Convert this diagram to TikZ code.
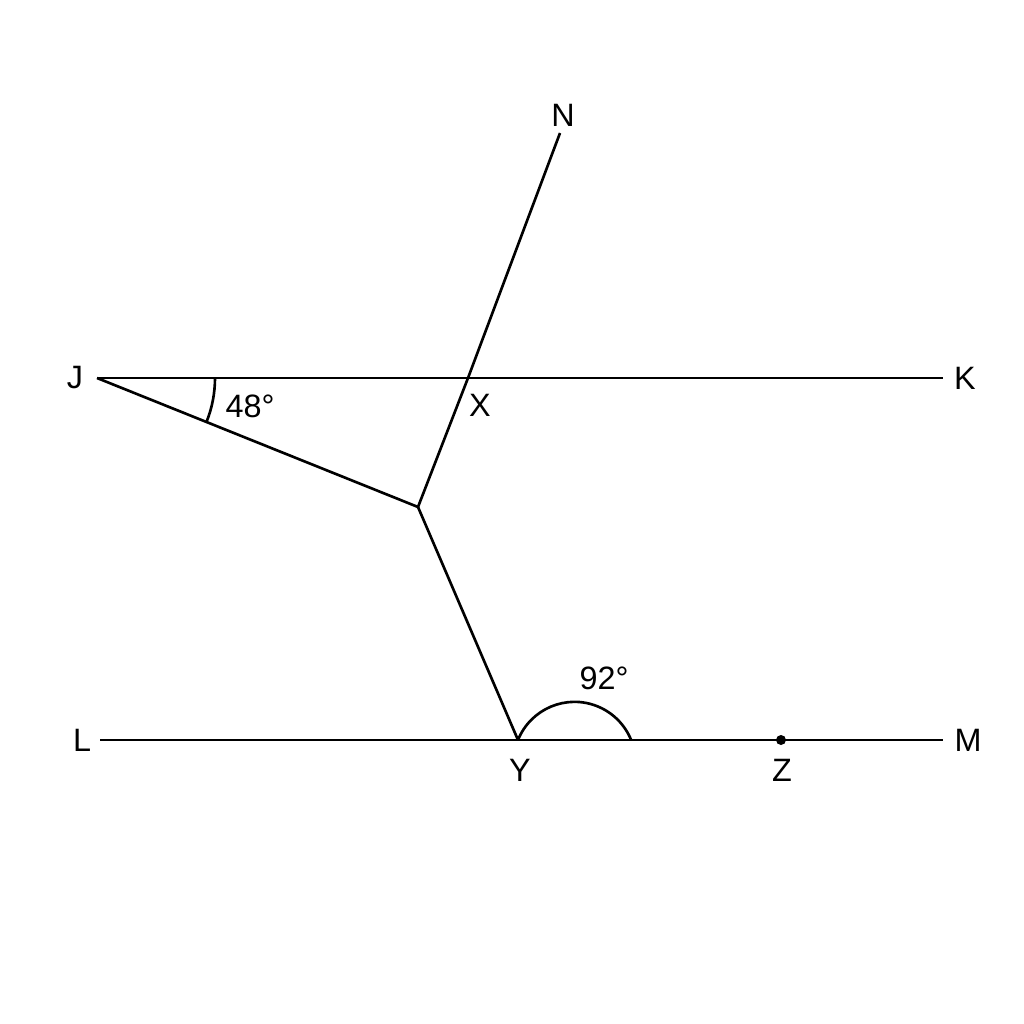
\documentclass[tikz,border=0pt]{standalone}
\usepackage{fontspec}
\setmainfont{Liberation Sans}
\begin{document}
\begin{tikzpicture}[x=0.01cm,y=-0.01cm,
  ln/.style={line width=0.75pt,black},
  lbl/.style={font=\fontsize{9.2}{11}\selectfont,inner sep=0pt}]
\useasboundingbox (0,0) rectangle (1024,1024);
\fill[white] (0,0) rectangle (1024,1024);
% points
\coordinate (J) at (97,378);
\coordinate (K) at (943,378);
\coordinate (N) at (560,133);
\coordinate (X) at (468,378);
\coordinate (P) at (418,507);
\coordinate (L) at (100,740);
\coordinate (M) at (943,740);
\coordinate (Y) at (518,740);
\coordinate (Z) at (781,740);
% lines
\draw[ln] (J) -- (K);
\draw[ln] (L) -- (M);
\draw[ln] (N) -- (X) -- (P);
\draw[ln] (J) -- (P);
\draw[ln] (P) -- (Y);
\fill (Z) circle (5);
% angle arcs (y axis flipped: angles measured clockwise visually)
\draw[ln] (J) ++(0:118) arc[start angle=0,end angle=21.9,radius=118];
\draw[ln] (Y) arc[start angle=-158,end angle=-22,radius=61];
% labels
\node[lbl] (lJ) at (75,378) {J};
\node[lbl] (lK) at (965,378) {K};
\node[lbl] (lN) at (563,115) {N};
\node[lbl] (lX) at (480,405) {X};
\node[lbl] (lL) at (82,740) {L};
\node[lbl] (lM) at (968,740) {M};
\node[lbl] (lY) at (520,770) {Y};
\node[lbl] (lZ) at (782,770) {Z};
\node[lbl] (a48) at (250,406) {48°};
\node[lbl] (a92) at (604,678) {92°};
\end{tikzpicture}
\end{document}
